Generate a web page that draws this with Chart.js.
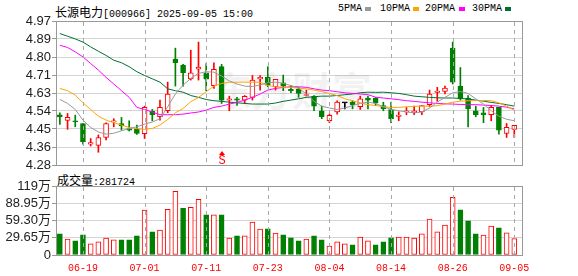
<!DOCTYPE html>
<html>
<head>
<meta charset="utf-8">
<script src="https://cdn.jsdelivr.net/npm/chart.js@4.4.0/dist/chart.umd.min.js"></script>
<style>
  body { margin: 0; background: #fff; width: 578px; height: 276px; overflow: hidden; position: relative; }
  canvas { position: absolute; left: 0; }
  #price { top: 0; }
  #vol { top: 170px; }
  .t { position: absolute; white-space: nowrap; font: 10px "Liberation Mono", monospace; line-height: 12px; color: #000; }
  .c { font: 12px "Noto Sans CJK SC", sans-serif; }
  .sw { position: absolute; width: 6px; height: 4px; }
</style>
</head>
<body>
<div class="t" style="left:55px;top:3px;"><span class="c">长源电力</span>[000966] 2025-09-05 15:00</div>
<div class="t" style="left:338px;top:3px;">5PMA</div><div class="sw" style="left:365px;top:7px;background:#999999"></div>
<div class="t" style="left:380px;top:3px;">10PMA</div><div class="sw" style="left:413px;top:7px;background:#ffa500"></div>
<div class="t" style="left:425px;top:3px;">20PMA</div><div class="sw" style="left:459px;top:7px;background:#ff00ff"></div>
<div class="t" style="left:472px;top:3px;">30PMA</div><div class="sw" style="left:505px;top:7px;background:#007030"></div>
<div class="t" style="left:57px;top:171px;"><span class="c">成交量</span>:281724</div>

<canvas id="price" width="578" height="180"></canvas>
<canvas id="vol" width="578" height="106"></canvas>

<script>
// trading days shown (06-16 .. 09-05)
const dates = ['06-16','06-17','06-18','06-19','06-20','06-23','06-24','06-25','06-26','06-27','06-30',
  '07-01','07-02','07-03','07-04','07-07','07-08','07-09','07-10','07-11','07-14','07-15','07-16','07-17','07-18',
  '07-21','07-22','07-23','07-24','07-25','07-28','07-29','07-30','07-31',
  '08-01','08-04','08-05','08-06','08-07','08-08','08-11','08-12','08-13','08-14','08-15','08-18','08-19','08-20',
  '08-21','08-22','08-25','08-26','08-27','08-28','08-29',
  '09-01','09-02','09-03','09-04','09-05'];
const xLabelDates = ['06-19','07-01','07-11','07-23','08-04','08-14','08-26','09-05'];

const opens  = [4.520,4.494,4.492,4.478,4.380,4.374,4.412,4.486,4.479,4.454,4.451,4.430,4.537,4.511,4.540,4.787,4.758,4.693,4.739,4.722,
                4.660,4.751,4.591,4.597,4.591,4.604,4.693,4.700,4.655,4.674,4.642,4.642,4.613,4.610,4.540,4.492,4.534,4.578,4.581,4.559,
                4.601,4.601,4.565,4.546,4.513,4.534,4.530,4.534,4.569,4.628,4.632,4.840,4.658,4.601,4.540,4.530,4.521,4.556,4.431,4.451];
const highs  = [4.530,4.527,4.519,4.478,4.407,4.424,4.482,4.502,4.508,4.492,4.471,4.562,4.546,4.591,4.677,4.840,4.762,4.830,4.869,4.766,
                4.770,4.762,4.610,4.604,4.613,4.709,4.709,4.751,4.690,4.711,4.661,4.652,4.639,4.613,4.562,4.524,4.588,4.578,4.588,4.610,
                4.610,4.604,4.581,4.581,4.535,4.556,4.562,4.565,4.639,4.652,4.658,4.869,4.747,4.613,4.562,4.556,4.565,4.556,4.479,4.470];
const lows   = [4.475,4.451,4.463,4.380,4.371,4.341,4.400,4.463,4.447,4.443,4.427,4.407,4.492,4.495,4.530,4.658,4.658,4.687,4.687,4.636,
                4.647,4.575,4.540,4.565,4.575,4.591,4.639,4.655,4.639,4.636,4.626,4.604,4.610,4.540,4.502,4.483,4.524,4.549,4.549,4.546,
                4.549,4.565,4.540,4.483,4.492,4.521,4.521,4.521,4.559,4.585,4.620,4.668,4.591,4.463,4.511,4.483,4.492,4.428,4.412,4.412];
const closes = [4.510,4.508,4.486,4.392,4.387,4.411,4.479,4.492,4.467,4.447,4.431,4.556,4.521,4.556,4.620,4.770,4.722,4.722,4.749,4.691,
                4.738,4.591,4.597,4.591,4.609,4.687,4.700,4.663,4.690,4.658,4.636,4.623,4.618,4.562,4.511,4.518,4.581,4.578,4.569,4.597,
                4.591,4.578,4.550,4.502,4.519,4.540,4.540,4.565,4.620,4.634,4.648,4.677,4.597,4.549,4.521,4.521,4.556,4.447,4.460,4.470];

const ma5  = [4.594,4.575,4.546,4.495,4.460,4.438,4.428,4.432,4.444,4.455,4.463,4.476,4.486,4.502,4.559,4.620,4.663,4.695,4.719,4.727,
              4.725,4.706,4.683,4.668,4.658,4.656,4.664,4.674,4.677,4.671,4.661,4.648,4.620,4.585,4.562,4.553,4.546,4.553,4.565,4.575,
              4.581,4.575,4.559,4.546,4.540,4.534,4.530,4.534,4.553,4.581,4.604,4.626,4.632,4.623,4.597,4.572,4.540,4.514,4.499,4.492];
const ma10 = [4.647,4.636,4.615,4.578,4.546,4.514,4.495,4.483,4.471,4.460,4.454,4.451,4.455,4.471,4.498,4.530,4.551,4.583,4.604,4.631,
              4.658,4.671,4.676,4.677,4.677,4.677,4.676,4.661,4.655,4.653,4.652,4.648,4.645,4.639,4.632,4.623,4.613,4.597,4.588,4.578,
              4.569,4.565,4.559,4.556,4.556,4.559,4.561,4.562,4.562,4.564,4.572,4.581,4.586,4.588,4.589,4.589,4.588,4.578,4.562,4.543];
const ma20 = [4.854,4.843,4.822,4.798,4.766,4.735,4.700,4.668,4.636,4.604,4.556,4.546,4.534,4.521,4.521,4.521,4.524,4.529,4.534,4.543,
              4.556,4.562,4.572,4.580,4.591,4.604,4.620,4.639,4.647,4.652,4.655,4.655,4.652,4.645,4.639,4.636,4.631,4.626,4.623,4.620,
              4.617,4.605,4.601,4.597,4.593,4.588,4.585,4.581,4.578,4.575,4.573,4.572,4.570,4.569,4.569,4.567,4.565,4.562,4.557,4.549];
const ma30 = [4.910,4.897,4.884,4.869,4.846,4.825,4.805,4.782,4.770,4.751,4.727,4.709,4.693,4.677,4.645,4.636,4.629,4.613,4.604,4.594,
              4.588,4.585,4.581,4.578,4.575,4.572,4.572,4.572,4.577,4.585,4.591,4.597,4.604,4.607,4.610,4.610,4.613,4.617,4.620,4.626,
              4.629,4.628,4.629,4.626,4.623,4.617,4.610,4.607,4.604,4.602,4.601,4.601,4.599,4.596,4.591,4.586,4.580,4.575,4.569,4.562];

// volume in 万 shares, and whether the bar is drawn red (up day)
const volumes = [36.4,27.4,24.5,34.7,19.3,22.8,29.1,26.2,26.2,26.2,33.0,77.0,39.9,42.8,78.7,109.5,80.4,82.1,95.8,69.0,
                 69.0,69.0,29.1,33.0,33.0,56.5,44.5,45.0,37.6,34.7,29.6,24.5,27.4,33.0,26.2,15.4,22.8,19.3,17.6,30.8,
                 24.5,17.6,22.8,29.6,30.8,30.8,29.1,36.4,61.6,39.9,51.3,99.2,77.5,58.7,36.4,34.2,49.6,46.7,38.2,28.17];
const volUp = [0,1,0,0,1,1,1,1,0,0, 0,1,0,1,1,1,0,1,1,0, 1,0,1,0,1,1,1,0,1,0,
               0,0,1,0,0,1,1,1,0,1, 1,0,0,0,1,1,1,1,1,1, 1,1,0,0,0,1,1,0,1,1];

const priceTickLabels = ['4.28','4.36','4.45','4.54','4.63','4.71','4.80','4.89','4.97'];
const volTickLabels = ['0','29.65万','59.30万','88.95万','119万'];
const volTickValues = [0, 29.65, 59.30, 88.95, 118.6];
const sellMarkDate = '07-15';

const RED = '#ff0000', GREEN = '#008000';
const priceMin = 4.28, priceMax = 4.97;
const priceTickValues = priceTickLabels.map((_, k) => priceMin + k * (priceMax - priceMin) / (priceTickLabels.length - 1));
const labelIdx = xLabelDates.map(d => dates.indexOf(d));
const xMin = -0.5, xMax = dates.length;

const candleColors = closes.map((c, i) => c > opens[i] ? RED : (c < opens[i] ? GREEN : '#000'));

// frame around the plot + dashed vertical lines at the labelled dates
const frame = {
    id: 'frame',
    afterDraw(chart) {
        const { ctx, chartArea: a, scales } = chart;
        ctx.save();
        ctx.lineWidth = 1;
        ctx.strokeStyle = '#a8a8a8';
        ctx.setLineDash([4, 4]);
        ctx.beginPath();
        for (const v of labelIdx) {
            const x = Math.round(scales.x.getPixelForValue(v)) + 0.5;
            ctx.moveTo(x, a.top + 1);
            ctx.lineTo(x, a.bottom);
        }
        ctx.stroke();
        ctx.setLineDash([]);
        ctx.strokeStyle = '#999';
        ctx.strokeRect(Math.floor(a.left) + 0.5, Math.floor(a.top) + 0.5, Math.round(a.width), Math.round(a.height));
        ctx.restore();
    }
};

const watermark = {
    id: 'watermark',
    beforeDatasetsDraw(chart) {
        const { ctx } = chart;
        ctx.save();
        ctx.fillStyle = 'rgba(0,0,0,0.05)';
        ctx.font = 'bold 40px "Noto Sans CJK SC"';
        ctx.textAlign = 'center';
        ctx.textBaseline = 'middle';
        ctx.fillText('东方财富', 292, 91);
        ctx.restore();
    }
};

const sellMark = {
    id: 'sellMark',
    afterDatasetsDraw(chart) {
        const { ctx, scales } = chart;
        const x = Math.round(scales.x.getPixelForValue(dates.indexOf(sellMarkDate)));
        ctx.save();
        ctx.fillStyle = RED;
        ctx.beginPath();
        ctx.moveTo(x, 151);
        ctx.lineTo(x - 3, 155);
        ctx.lineTo(x + 3, 155);
        ctx.closePath();
        ctx.fill();
        ctx.font = '12px "Liberation Mono"';
        ctx.textAlign = 'center';
        ctx.textBaseline = 'middle';
        ctx.fillText('S', x, 161);
        ctx.restore();
    }
};

const maLine = (vals, color) => ({
    type: 'line',
    data: vals.map((v, i) => ({ x: i, y: v })),
    borderColor: color,
    borderWidth: 1,
    pointRadius: 0,
    tension: 0,
    order: 0
});

// shared x axis setup: one unit per trading day, ticks at the labelled dates
function xAxis(extra) {
    return Object.assign({
        type: 'linear',
        min: xMin,
        max: xMax,
        bounds: 'data',
        offset: false,
        afterBuildTicks: s => {
            s.ticks = labelIdx.map(v => ({ value: v }));
            s.min = xMin;
            s.max = xMax;
        },
        grid: { display: false, drawTicks: false, tickLength: 0 },
        border: { display: false }
    }, extra);
}

new Chart(document.getElementById('price'), {
    type: 'bar',
    data: {
        datasets: [
            maLine(ma5, '#999999'),
            maLine(ma10, '#ffa500'),
            maLine(ma20, '#ff00ff'),
            maLine(ma30, '#007030'),
            {
                // candle bodies
                data: opens.map((o, i) => ({ x: i, y: [o, closes[i]] })),
                backgroundColor: candleColors.map(c => c === RED ? '#ffffff' : c),
                borderColor: candleColors,
                borderWidth: 1,
                borderSkipped: false,
                barThickness: 5,
                maxBarThickness: 5,
                minBarLength: 1,
                grouped: false,
                order: 1
            },
            {
                // wicks
                data: lows.map((l, i) => ({ x: i, y: [l, highs[i]] })),
                backgroundColor: candleColors,
                barThickness: 1,
                maxBarThickness: 1,
                grouped: false,
                order: 2
            }
        ]
    },
    options: {
        responsive: false,
        animation: false,
        layout: { padding: { top: 21, right: 56, bottom: 15, left: 0 } },
        plugins: { legend: { display: false }, tooltip: { enabled: false } },
        scales: {
            x: xAxis({
                afterFit: s => { s.height = 0; },
                ticks: { display: false }
            }),
            y: {
                min: priceMin,
                max: priceMax,
                afterFit: s => { s.width = 56; },
                afterBuildTicks: s => { s.ticks = priceTickValues.map(v => ({ value: v })); },
                ticks: {
                    autoSkip: false,
                    callback: (v, i) => priceTickLabels[i],
                    color: '#222',
                    padding: 1,
                    font: { family: '"Liberation Sans"', size: 13 }
                },
                grid: { color: '#d4d4d4', tickColor: '#999', tickLength: 4 },
                border: { color: '#999' }
            }
        }
    },
    plugins: [frame, watermark, sellMark]
});

new Chart(document.getElementById('vol'), {
    type: 'bar',
    data: {
        datasets: [{
            data: volumes.map((v, i) => ({ x: i, y: v })),
            backgroundColor: volUp.map(u => u ? '#ffffff' : GREEN),
            borderColor: volUp.map(u => u ? RED : GREEN),
            borderWidth: 1,
            borderSkipped: false,
            barThickness: 5,
            maxBarThickness: 5,
            grouped: false
        }]
    },
    options: {
        responsive: false,
        animation: false,
        layout: { padding: { top: 16, right: 56, bottom: 0, left: 0 } },
        plugins: { legend: { display: false }, tooltip: { enabled: false } },
        scales: {
            x: xAxis({
                afterFit: s => { s.height = 21; },
                ticks: {
                    display: true,
                    autoSkip: false,
                    maxRotation: 0,
                    padding: 7,
                    color: RED,
                    font: { family: '"Liberation Mono"', size: 10 },
                    callback: v => dates[v]
                }
            }),
            y: {
                min: 0,
                max: volTickValues[volTickValues.length - 1],
                afterFit: s => { s.width = 56; },
                afterBuildTicks: s => { s.ticks = volTickValues.map(v => ({ value: v })); },
                ticks: {
                    autoSkip: false,
                    callback: (v, i) => volTickLabels[i],
                    color: '#222',
                    padding: 1,
                    font: { family: '"Liberation Sans", "Noto Sans CJK SC"', size: 13 }
                },
                grid: { color: '#d4d4d4', tickColor: '#999', tickLength: 4 },
                border: { color: '#999' }
            }
        }
    },
    plugins: [frame]
});
</script>
</body>
</html>
